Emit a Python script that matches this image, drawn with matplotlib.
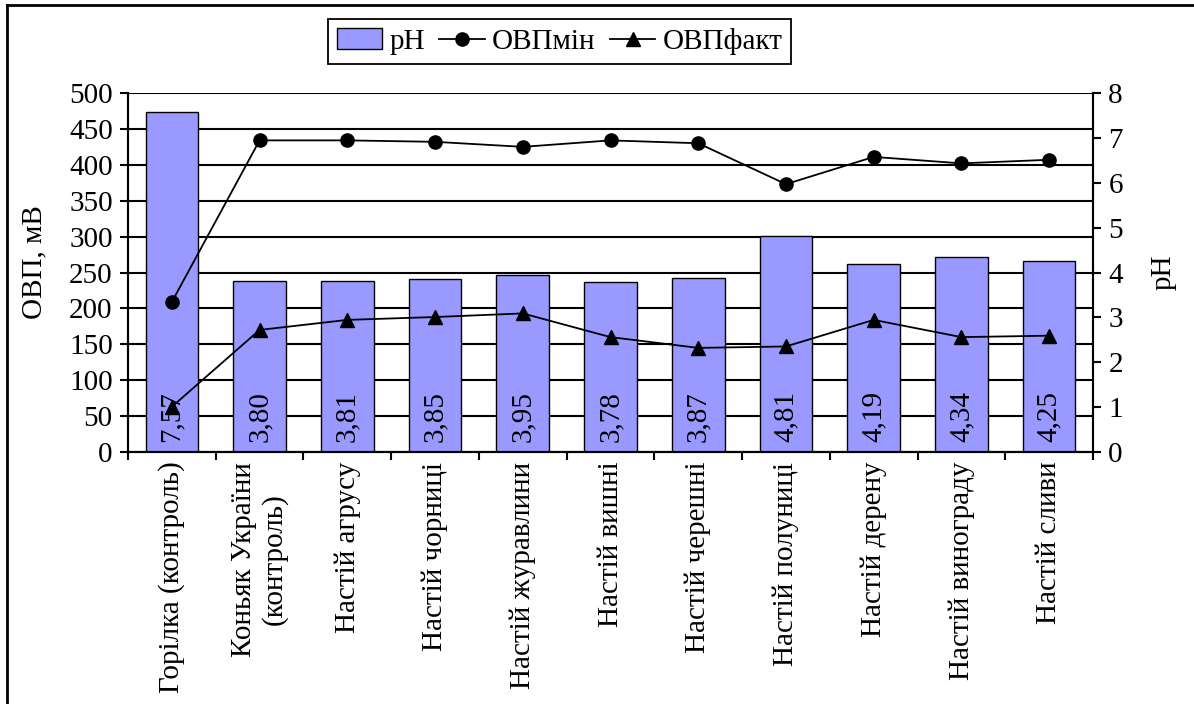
import matplotlib
matplotlib.use("Agg")
import matplotlib.pyplot as plt
from matplotlib.lines import Line2D
from matplotlib.patches import Patch
from matplotlib.ticker import FixedLocator
import numpy as np

plt.rcParams["font.family"] = ["Liberation Serif", "DejaVu Serif"]
plt.rcParams["font.size"] = 21

# Samples
categories = [
    "Горілка (контроль)",
    "Коньяк України\n(контроль)",
    "Настій агрусу",
    "Настій чорниці",
    "Настій журавлини",
    "Настій вишні",
    "Настій черешні",
    "Настій полуниці",
    "Настій дерену",
    "Настій винограду",
    "Настій сливи",
]
ph = [7.57, 3.80, 3.81, 3.85, 3.95, 3.78, 3.87, 4.81, 4.19, 4.34, 4.25]
ovp_min = [209, 434, 434, 432, 425, 434, 430, 373, 411, 402, 407]
ovp_fact = [63, 170, 184, 188, 193, 160, 145, 147, 184, 160, 162]

ovp_ticks = np.arange(0, 501, 50)
ph_ticks = np.arange(0, 9, 1)

x = np.arange(len(categories))

fig = plt.figure(figsize=(11.94, 7.04), dpi=100)
ax = fig.add_axes([128 / 1194, 1 - 452 / 704, 965 / 1194, 359 / 704])
ax2 = ax.twinx()

# pH bars on the right axis, drawn under the ОВП lines
ax2.set_zorder(1)
ax.set_zorder(2)
ax.patch.set_visible(False)

ax2.bar(x, ph, width=0.6, color="#9999FF", edgecolor="black",
        linewidth=1.0, zorder=2)
for xi, v in zip(x, ph):
    ax2.annotate(f"{v:.2f}".replace(".", ","), (xi, 0), xytext=(0, 7),
                 textcoords="offset points", rotation=90,
                 ha="center", va="bottom", fontsize=21, zorder=3)

ax2.set_ylim(0, 8)
ax2.yaxis.set_major_locator(FixedLocator(ph_ticks))
# horizontal grid every 50 mV, placed on the pH scale
ax2.yaxis.set_minor_locator(FixedLocator(ovp_ticks * 8 / 500))
ax2.yaxis.remove_overlapping_locs = False
ax2.set_axisbelow(True)
ax2.grid(which="minor", axis="y", color="black", linewidth=1.5)
ax2.tick_params(axis="y", which="minor", length=0)
ax2.tick_params(axis="y", which="major", length=6, width=1.5, direction="out", pad=5)
ax2.set_ylabel("pH")
ax2.yaxis.set_label_coords(1.06, 0.5)

ax.plot(x, ovp_min, color="black", linewidth=1.3, marker="o", markersize=9.5,
        label="ОВПмін")
ax.plot(x, ovp_fact, color="black", linewidth=1.3, marker="^", markersize=10.5,
        label="ОВПфакт")

ax.set_ylim(0, 500)
ax.yaxis.set_major_locator(FixedLocator(ovp_ticks))
ax.tick_params(axis="y", length=6, width=1.5, direction="out", pad=5)
ax.set_ylabel("ОВП, мВ")
ax.yaxis.set_label_coords(-0.084, 0.53)

ax.set_xlim(-0.5, len(categories) - 0.5)
ax.set_xticks(x)
ax.set_xticklabels(categories, rotation=90, ha="center", va="top",
                   multialignment="center")
ax.tick_params(axis="x", which="major", length=0, pad=7)
ax.xaxis.set_minor_locator(FixedLocator(np.arange(-0.5, len(categories), 1.0)))
ax.tick_params(axis="x", which="minor", length=6, width=1.5, direction="out")

for a in (ax, ax2):
    for s in a.spines.values():
        s.set_linewidth(1.5)
    a.spines["top"].set_visible(False)

handles = [
    Patch(facecolor="#9999FF", edgecolor="black", linewidth=1.0, label="pH"),
    Line2D([], [], color="black", linewidth=1.3, marker="o", markersize=9.5,
           label="ОВПмін"),
    Line2D([], [], color="black", linewidth=1.3, marker="^", markersize=10.5,
           label="ОВПфакт"),
]
leg = fig.legend(handles=handles, loc="upper left",
                 bbox_to_anchor=(328 / 1194, 1 - 19 / 704), ncol=3,
                 frameon=True, fancybox=False, framealpha=1,
                 edgecolor="black", handlelength=1.55, handleheight=0.7,
                 handletextpad=0.25, columnspacing=0.5, borderpad=0.3,
                 borderaxespad=0, fontsize=21)
leg.get_frame().set_linewidth(1.3)

# outer frame: top and left edges
fig.add_artist(Line2D([7 / 1194, 7 / 1194], [0, 1 - 5 / 704],
                      transform=fig.transFigure, color="black", linewidth=2))
fig.add_artist(Line2D([7 / 1194, 1], [1 - 5 / 704, 1 - 5 / 704],
                      transform=fig.transFigure, color="black", linewidth=2))

fig.savefig("out.png", dpi=100)
